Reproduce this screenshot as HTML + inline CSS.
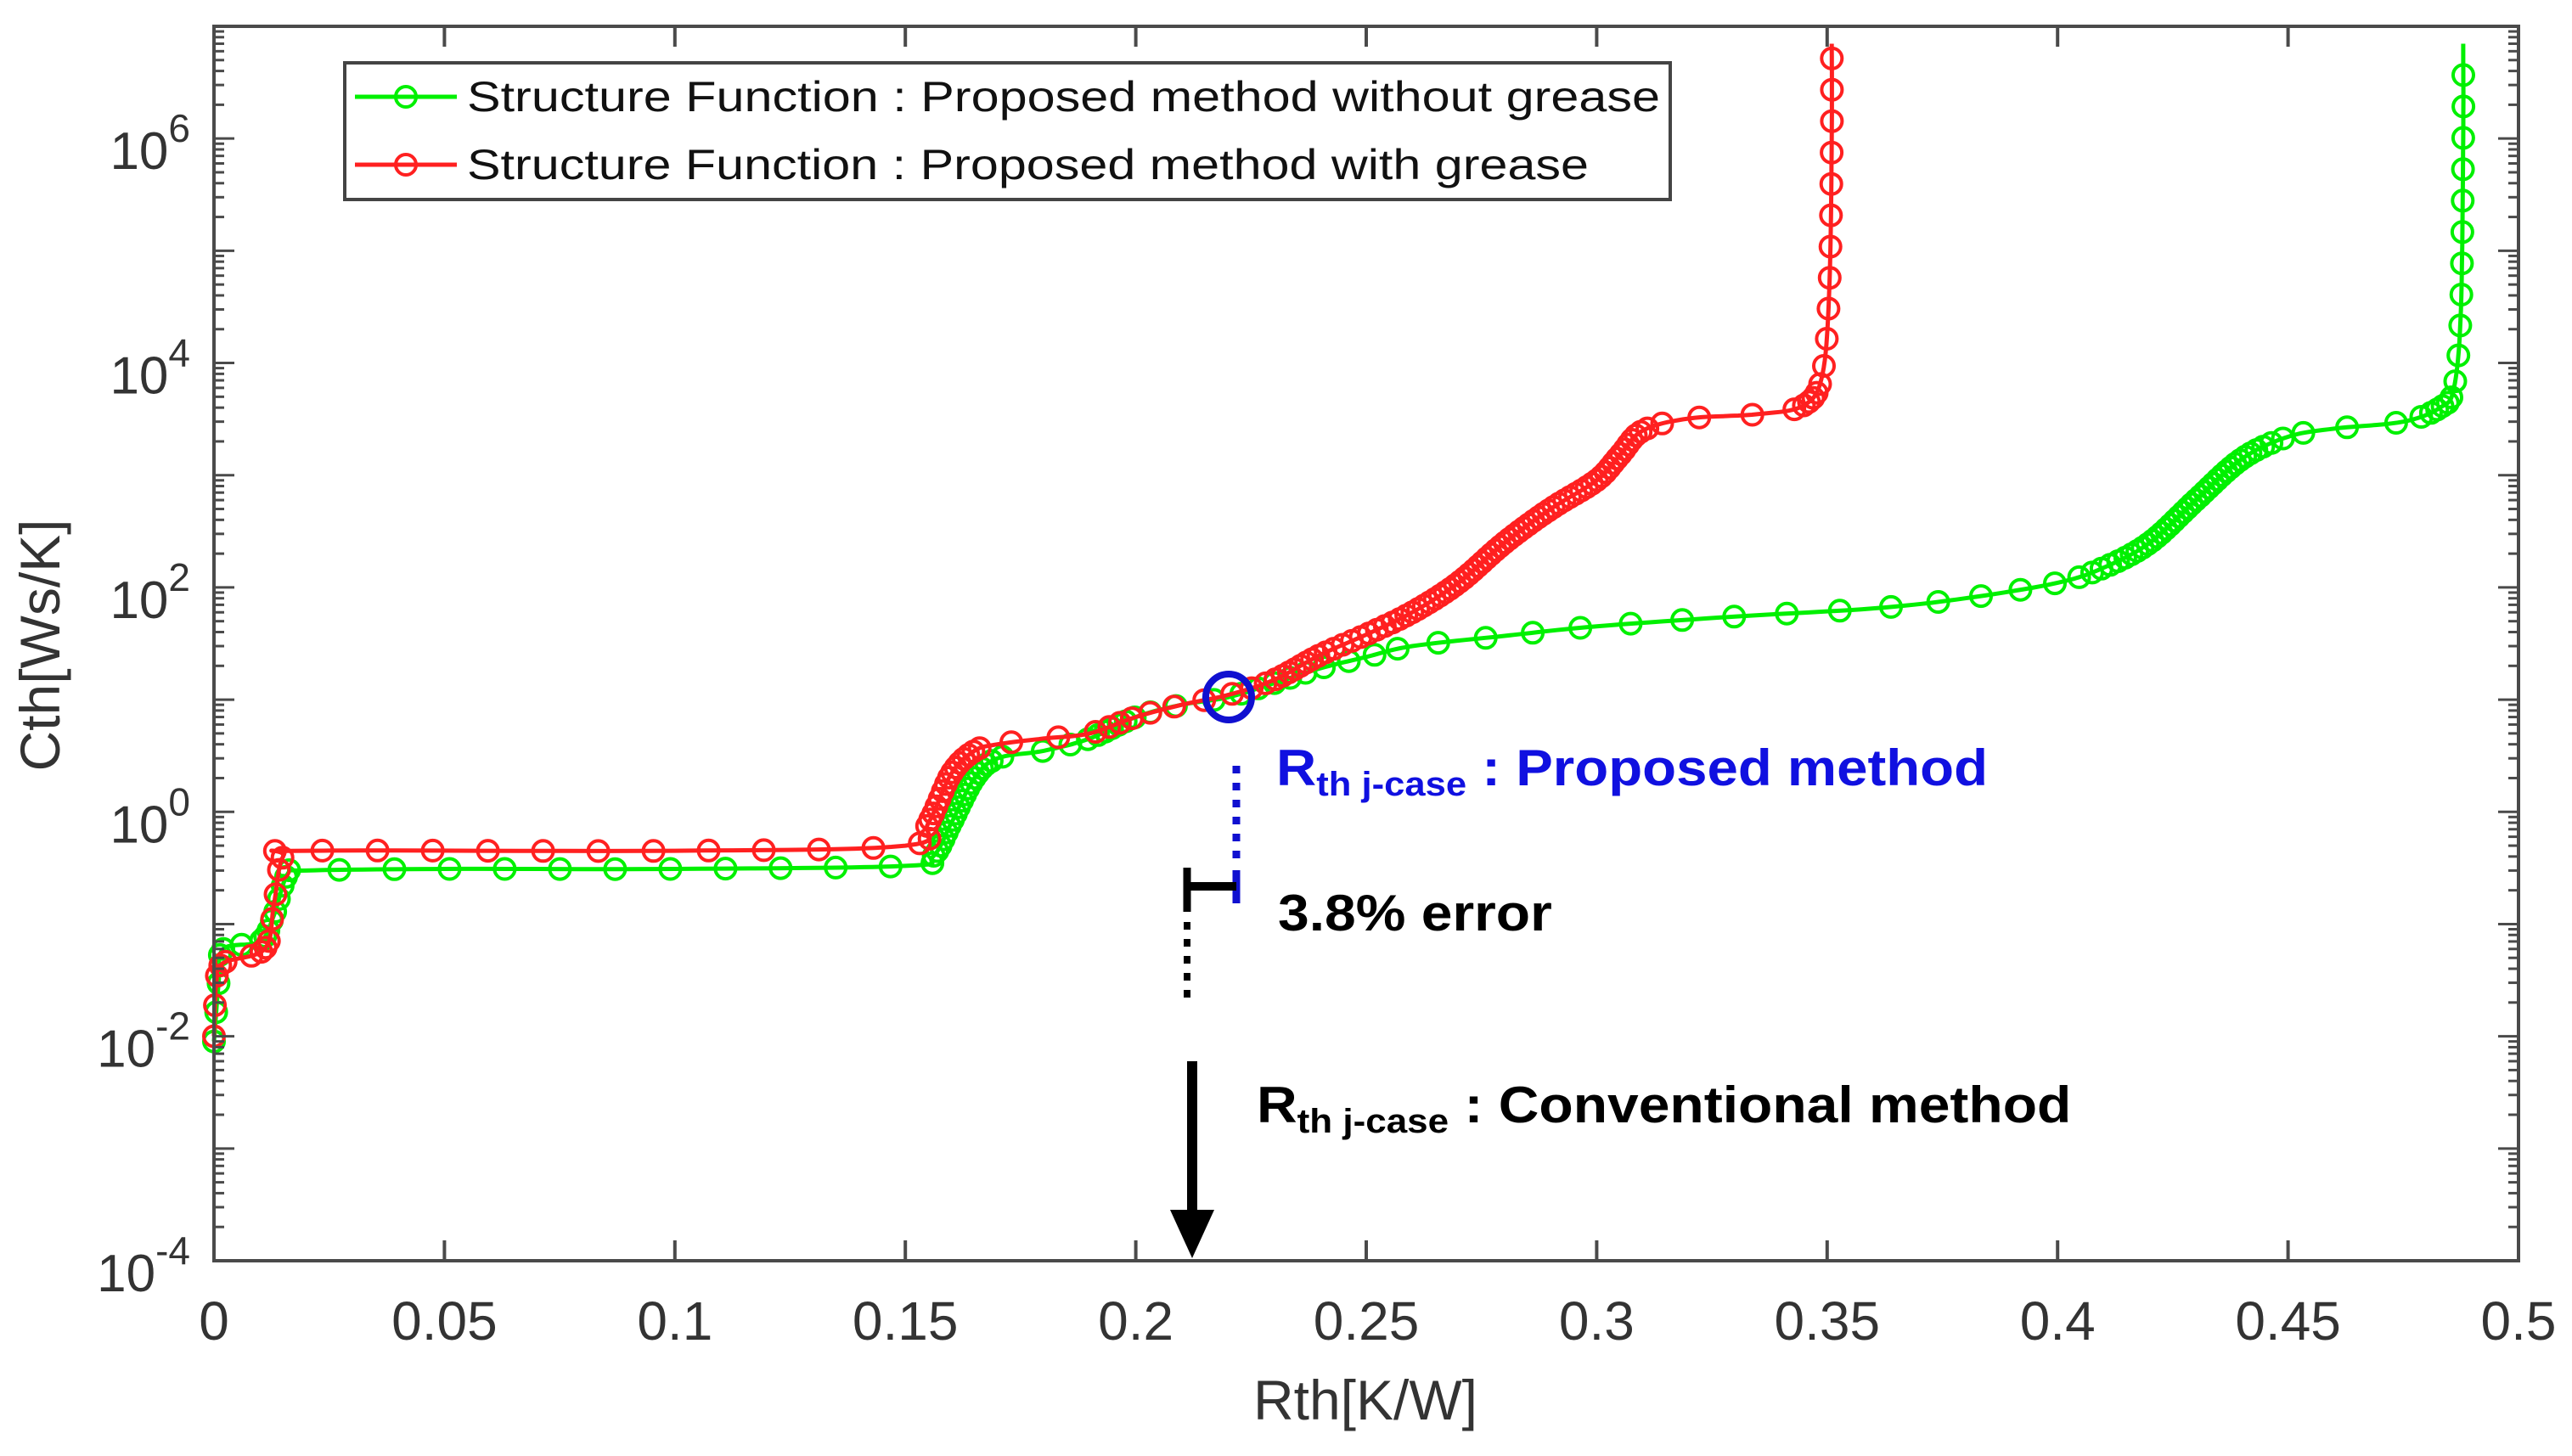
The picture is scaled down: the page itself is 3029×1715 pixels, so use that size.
<!DOCTYPE html>
<html><head><meta charset="utf-8"><style>
html,body{margin:0;padding:0;background:#fff;}
svg{display:block;font-family:"Liberation Sans",Arial,sans-serif;}
</style></head><body>
<svg id="chart" width="3029" height="1715" viewBox="0 0 3029 1715" xmlns="http://www.w3.org/2000/svg">
<rect x="0" y="0" width="3029" height="1715" fill="#fff"/>
<g id="series"></g>
<g id="axes"></g>
<text x="1608" y="1672" font-size="66" text-anchor="middle" fill="#333">Rth[K/W]</text>
<text x="0" y="0" font-size="66" text-anchor="middle" fill="#333" transform="translate(70,760) rotate(-90)">Cth[Ws/K]</text>
<g>
<rect x="406" y="74" width="1561" height="161" fill="#fff" stroke="#444" stroke-width="4"/>
<g>
<line x1="418" y1="114" x2="538" y2="114" stroke="#00f000" stroke-width="5"/>
<circle cx="478" cy="114" r="12" fill="none" stroke="#00f000" stroke-width="4"/>
<text x="550" y="131" font-size="50" textLength="1405" lengthAdjust="spacingAndGlyphs" fill="#111">Structure Function : Proposed method without grease</text>
</g>
<g>
<line x1="418" y1="194" x2="538" y2="194" stroke="#ff2020" stroke-width="5"/>
<circle cx="478" cy="194" r="12" fill="none" stroke="#ff2020" stroke-width="4"/>
<text x="550" y="211" font-size="50" textLength="1321" lengthAdjust="spacingAndGlyphs" fill="#111">Structure Function : Proposed method with grease</text>
</g>
</g>
<g>
<circle cx="1447" cy="821" r="27" fill="none" stroke="#1010d0" stroke-width="8"/>
<line x1="1456" y1="902" x2="1456" y2="1012" stroke="#1010d0" stroke-width="9" stroke-dasharray="9,11"/>
<line x1="1456" y1="1025" x2="1456" y2="1064" stroke="#1010d0" stroke-width="9"/>
<line x1="1398" y1="1022" x2="1398" y2="1074" stroke="#000" stroke-width="9"/>
<line x1="1398" y1="1044" x2="1456" y2="1044" stroke="#000" stroke-width="10"/>
<line x1="1398" y1="1086" x2="1398" y2="1176" stroke="#000" stroke-width="8" stroke-dasharray="9,11"/>
<line x1="1404" y1="1250" x2="1404" y2="1430" stroke="#000" stroke-width="12"/>
<polygon points="1378,1425 1430,1425 1404,1482" fill="#000"/>
<text x="0" y="0" transform="translate(1503,925) scale(1.09,1)" font-size="60" font-weight="bold" fill="#1010e0">R<tspan font-size="40" dy="12">th j-case</tspan><tspan dy="-12"> : Proposed method</tspan></text>
<text x="0" y="0" transform="translate(1505,1096) scale(1.1,1)" font-size="60" font-weight="bold" fill="#000">3.8% error</text>
<text x="0" y="0" transform="translate(1480,1322) scale(1.1,1)" font-size="60" font-weight="bold" fill="#000">R<tspan font-size="40" dy="12">th j-case</tspan><tspan dy="-12"> : Conventional method</tspan></text>
</g>
</svg>
<script>
const xTicks = [0, 0.05, 0.1, 0.15, 0.2, 0.25, 0.3, 0.35, 0.4, 0.45, 0.5];
const xTickLabels = ["0","0.05","0.1","0.15","0.2","0.25","0.3","0.35","0.4","0.45","0.5"];
const yTickExps = [-4, -2, 0, 2, 4, 6];
const greenX = [0,0.001,0.002,0.010,0.013,0.016,0.02,0.05,0.1,0.15,0.156,0.16,0.165,0.17,0.18,0.19,0.20,0.21,0.22,0.23,0.24,0.25,0.26,0.28,0.30,0.33,0.36,0.38,0.40,0.41,0.42,0.43,0.44,0.45,0.46,0.475,0.483,0.486,0.4875,0.488,0.488];
const greenY = [0.009,0.03,0.06,0.07,0.12,0.28,0.3,0.31,0.31,0.33,0.4,0.8,2.0,3.0,3.5,4.5,7,9,10.5,14,19,24,30,37,45,55,65,80,110,150,250,600,1400,2200,2600,3000,4000,6000,30000,1e6,7e6];
const redX = [0,0.0005,0.002,0.011,0.013,0.015,0.02,0.1,0.15,0.155,0.16,0.165,0.17,0.18,0.19,0.2,0.21,0.22,0.23,0.24,0.25,0.26,0.27,0.28,0.29,0.3,0.305,0.31,0.32,0.335,0.345,0.349,0.3505,0.351,0.351];
const redY = [0.01,0.03,0.045,0.06,0.15,0.4,0.45,0.45,0.5,0.8,2.2,3.5,4,4.5,5,7,9,11,15,25,38,60,110,250,500,900,1500,2500,3200,3500,4200,8000,50000,1e6,7e6];

const L=252,R=2966,T=31,B=1485, Y0=-4, Y1=7;
const NS="http://www.w3.org/2000/svg";
function xs(v){return L+(v-0)/(0.5)*(R-L);}
function ys(v){return B-(Math.log10(v)-Y0)/(Y1-Y0)*(B-T);}
function mk(tag,attrs,parent){const e=document.createElementNS(NS,tag);for(const k in attrs)e.setAttribute(k,attrs[k]);parent.appendChild(e);return e;}
const axes=document.getElementById('axes');
const series=document.getElementById('series');

function smooth(pts){
  const out=[];
  for(let i=0;i<pts.length-1;i++){
    const p0=pts[Math.max(0,i-1)],p1=pts[i],p2=pts[i+1],p3=pts[Math.min(pts.length-1,i+2)];
    for(let k=0;k<10;k++){
      const t=k/10,t2=t*t,t3=t2*t;
      const f=(a,b,c,d)=>0.5*((2*b)+(-a+c)*t+(2*a-5*b+4*c-d)*t2+(-a+3*b-3*c+d)*t3);
      out.push([f(p0[0],p1[0],p2[0],p3[0]),f(p0[1],p1[1],p2[1],p3[1])]);
    }
  }
  out.push(pts[pts.length-1]);
  return out;
}

function drawSeries(X,Y,color,name){
  const g=mk('g',{},series);
  
  
  const pts=smooth(X.map((x,i)=>[xs(x),ys(Y[i])]));
  const line=mk('polyline',{points:pts.map(p=>p[0].toFixed(1)+','+p[1].toFixed(1)).join(' '),fill:'none',stroke:color,'stroke-width':5,'stroke-linejoin':'round'},g);
  
  
  const place=(x,y)=>{const c=mk('circle',{cx:x.toFixed(1),cy:y.toFixed(1),r:12,fill:'none',stroke:color,'stroke-width':4},g);
    
    };
  place(pts[0][0],pts[0][1]);
  let acc=0;
  for(let i=1;i<pts.length;i++){
    const [x0,y0]=pts[i-1],[x1,y1]=pts[i];
    const dx=x1-x0,dy=y1-y0,len=Math.hypot(dx,dy); if(len<0.01)continue;
    const c=Math.abs(dx)/len,s=Math.abs(dy)/len;
    const sp=7+58*Math.pow(c,30)+30*Math.pow(s,30);
    // accumulate fraction of spacing
    let pos=0;
    while(true){
      const need=(1-acc)*sp;
      if(pos+need<=len){pos+=need;acc=0;place(x0+dx*pos/len,y0+dy*pos/len);}
      else{acc+=(len-pos)/sp;break;}
    }
  }
}
drawSeries(greenX,greenY,'#00f000','series-without-grease');
drawSeries(redX,redY,'#ff2020','series-with-grease');

const box=mk('rect',{x:L,y:T,width:R-L,height:B-T,fill:'none',stroke:'#4a4a4a','stroke-width':4},axes);


xTicks.forEach((v,i)=>{
  const x=xs(v);
  mk('line',{x1:x,y1:B,x2:x,y2:B-24,stroke:'#4a4a4a','stroke-width':4},axes);
  mk('line',{x1:x,y1:T,x2:x,y2:T+24,stroke:'#4a4a4a','stroke-width':4},axes);
  const t=mk('text',{x:x,y:1578,'font-size':64,'text-anchor':'middle',fill:'#333'},axes);
  t.textContent=xTickLabels[i];
  
  
});
for(let e=Y0;e<Y1;e++){
  for(let m=1;m<10;m++){
    const y=ys(m*Math.pow(10,e)); const len=(m===1)?24:12;
    mk('line',{x1:L,y1:y,x2:L+len,y2:y,stroke:'#4a4a4a','stroke-width':3},axes);
    mk('line',{x1:R,y1:y,x2:R-len,y2:y,stroke:'#4a4a4a','stroke-width':3},axes);
  }
}
yTickExps.forEach(e=>{
  const y=ys(Math.pow(10,e));
  const t=mk('text',{x:224,y:y+36,'font-size':62,'text-anchor':'end',fill:'#333'},axes);
  
  
  const a=mk('tspan',{},t); a.textContent='10';
  const b=mk('tspan',{'font-size':46,dy:-32},t); b.textContent=String(e);
});
</script>
</body></html>
